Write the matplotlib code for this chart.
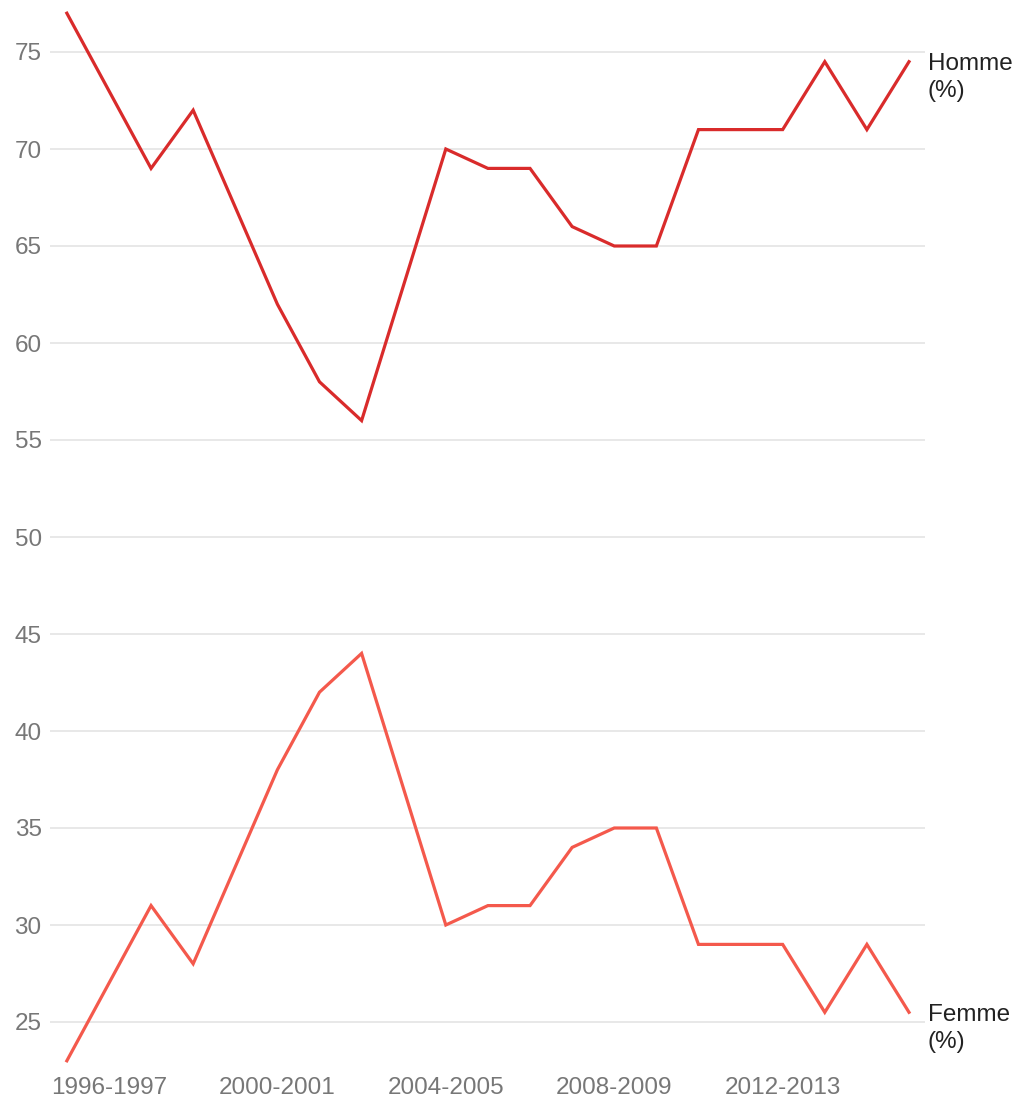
import matplotlib.pyplot as plt

plt.rcParams['font.family'] = ['Liberation Sans', 'DejaVu Sans']

# saisons 1995-1996 ... 2015-2016
seasons = ["%d-%d" % (y, y + 1) for y in range(1995, 2016)]
homme = [77, 73, 69, 72, 67, 62, 58, 56, 63, 70, 69, 69, 66, 65, 65,
         71, 71, 71, 74.5, 71, 74.5]
femme = [23, 27, 31, 28, 33, 38, 42, 44, 37, 30, 31, 31, 34, 35, 35,
         29, 29, 29, 25.5, 29, 25.5]
tick_labels = ["1996-1997", "2000-2001", "2004-2005", "2008-2009", "2012-2013"]
y_ticks = [25, 30, 35, 40, 45, 50, 55, 60, 65, 70, 75]

x = list(range(len(seasons)))

fig = plt.figure(figsize=(10.25, 11.03), dpi=100)
ax = fig.add_axes([50 / 1025, 1 - 1070.5 / 1103, 875 / 1025, 1067 / 1103])

ax.plot(x, homme, color='#d92b2b', lw=2.3, solid_joinstyle='miter')
ax.plot(x, femme, color='#f4594c', lw=2.3, solid_joinstyle='miter')

ax.set_xlim(-0.4, 20.38)
ax.set_ylim(22.5, 77.5)

ax.set_yticks(y_ticks)
ax.set_xticks([seasons.index(s) for s in tick_labels])
ax.set_xticklabels(tick_labels)
ax.tick_params(axis='both', length=0, labelsize=17.5, labelcolor='#777777')
ax.tick_params(axis='y', pad=6)
ax.tick_params(axis='x', pad=5)
ax.grid(axis='y', color='#e6e6e6', lw=1.3)
ax.set_axisbelow(True)
for s in ax.spines.values():
    s.set_visible(False)

ax.text(20.45, homme[-1] + 0.45, "Homme\n(%)", ha='left', va='top', fontsize=17.5,
        color='#222222', linespacing=1.3, clip_on=False)
ax.text(20.45, femme[-1] + 0.45, "Femme\n(%)", ha='left', va='top', fontsize=17.5,
        color='#222222', linespacing=1.3, clip_on=False)

fig.savefig("out.png", dpi=100)
